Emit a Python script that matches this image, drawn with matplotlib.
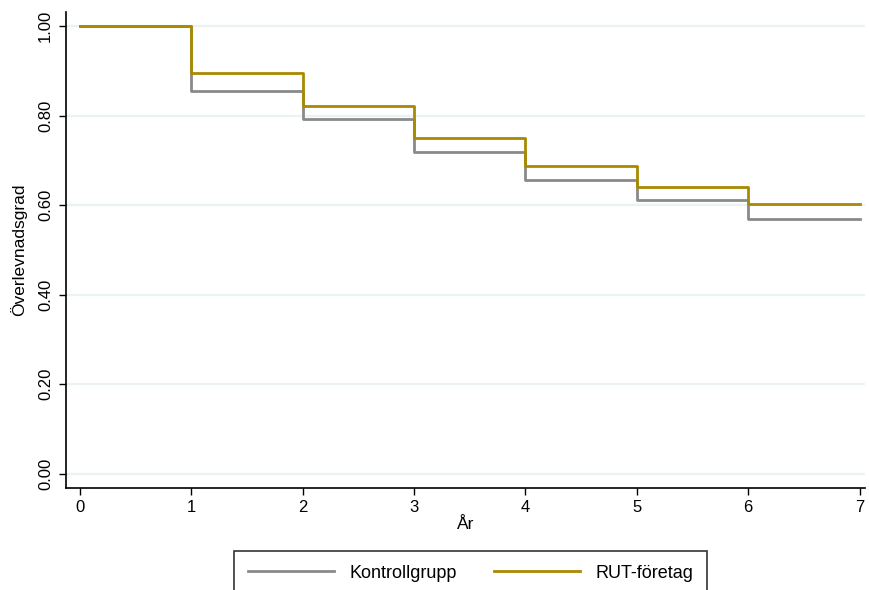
import matplotlib

matplotlib.use("Agg")

import matplotlib.pyplot as plt

plt.rcParams["font.family"] = ["Liberation Sans", "DejaVu Sans"]

years = [0, 1, 2, 3, 4, 5, 6, 7]
kontroll = [1.00, 0.856, 0.792, 0.719, 0.657, 0.611, 0.569, 0.569]
rut = [1.00, 0.896, 0.821, 0.749, 0.688, 0.641, 0.603, 0.603]
yticks = [0.0, 0.2, 0.4, 0.6, 0.8, 1.0]

fig = plt.figure(figsize=(8.69, 5.90), dpi=100)
ax = fig.add_axes([0.0756, 0.1734, 0.920, 0.806])

for y in yticks:
    ax.axhline(y, color="#EAF2F3", lw=1.6, zorder=0)

ax.step(years, kontroll, where="post", color="#8A8A8A", lw=2.0, label="Kontrollgrupp")
ax.step(years, rut, where="post", color="#A88A00", lw=2.0, label="RUT-företag")

ax.set_xlim(-0.128, 7.05)
ax.set_ylim(-0.031, 1.031)
ax.set_xticks(years)
ax.set_yticks(yticks)
ax.set_yticklabels([f"{v:.2f}" for v in yticks], rotation=90, va="center")
ax.tick_params(axis="both", direction="out", length=5, width=1, labelsize=12, colors="black")
ax.tick_params(axis="x", pad=4)
ax.tick_params(axis="y", pad=4)
for side in ("top", "right"):
    ax.spines[side].set_visible(False)
for side in ("left", "bottom"):
    ax.spines[side].set_linewidth(1.2)

ax.set_xlabel("År", fontsize=12.5, labelpad=1)
ax.set_ylabel("Överlevnadsgrad", fontsize=12.5, labelpad=8)

leg = fig.legend(loc="upper center", bbox_to_anchor=(470.5 / 869, 1 - 551 / 590),
                 ncol=2, fontsize=13, frameon=True, fancybox=False,
                 handlelength=4.8, handletextpad=0.83, columnspacing=2.05,
                 borderpad=0.75, borderaxespad=0)
leg.get_frame().set_edgecolor("black")
leg.get_frame().set_linewidth(1.2)

fig.savefig("out.png", dpi=100)
